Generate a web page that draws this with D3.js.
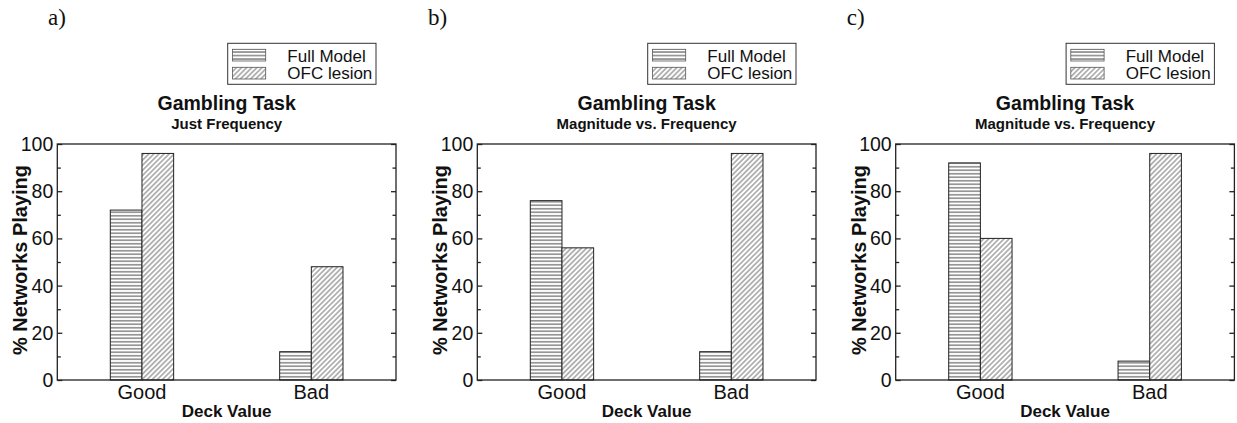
<!DOCTYPE html>
<html>
<head>
<meta charset="utf-8">
<script src="https://cdn.jsdelivr.net/npm/d3@7"></script>
<style>
  body { margin: 0; background: #fff; }
  text { font-family: "Liberation Sans", Arial, sans-serif; fill: #111; }
  .plabel { font-family: "Liberation Serif", "Times New Roman", serif; }
</style>
</head>
<body>
<div id="chart"></div>
<script>

// data
var panelLabels = ["a)", "b)", "c)"];
var subtitles = ["Just Frequency", "Magnitude vs. Frequency", "Magnitude vs. Frequency"];
var categories = ["Good", "Bad"];
var seriesNames = ["Full Model", "OFC lesion"];
var fullModel = [[72, 12], [76, 12], [92, 8]];
var ofcLesion = [[96, 48], [56, 96], [60, 96]];
var yTicks = [0, 20, 40, 60, 80, 100];
var yMinor = [10, 30, 50, 70, 90];

var W = 1237, H = 423;
var panelX = [0, 420, 838.4];
var margin = { left: 57.3, top: 144 };
var width = 338.7;
var height = 236;

var svg = d3.select("#chart").append("svg")
  .attr("width", W)
  .attr("height", H);

var defs = svg.append("defs");

// horizontal lines pattern (Full Model)
var ph = defs.append("pattern")
  .attr("id", "hatchH")
  .attr("patternUnits", "userSpaceOnUse")
  .attr("width", 6).attr("height", 3.5);
ph.append("rect").attr("width", 6).attr("height", 3.5).attr("fill", "#fff");
ph.append("line").attr("x1", 0).attr("x2", 6).attr("y1", 1.75).attr("y2", 1.75)
  .attr("stroke", "#333").attr("stroke-width", 0.9);

// diagonal pattern (OFC lesion)
var pd = defs.append("pattern")
  .attr("id", "hatchD")
  .attr("patternUnits", "userSpaceOnUse")
  .attr("width", 3.6).attr("height", 10)
  .attr("patternTransform", "rotate(45)");
pd.append("rect").attr("width", 3.6).attr("height", 10).attr("fill", "#fff");
pd.append("line").attr("x1", 1.8).attr("x2", 1.8).attr("y1", 0).attr("y2", 10)
  .attr("stroke", "#444").attr("stroke-width", 0.8);

var fills = ["url(#hatchH)", "url(#hatchD)"];

var y = d3.scaleLinear().domain([0, 100]).range([height, 0]);

var x0 = d3.scaleBand()
  .domain(categories)
  .range([0, width])
  .paddingInner(0.626)
  .paddingOuter(0.313);

var x1 = d3.scaleBand()
  .domain(seriesNames)
  .range([0, x0.bandwidth()]);

panelLabels.forEach(function (lab, i) {

  var p = svg.append("g")
    .attr("transform", "translate(" + panelX[i] + ",0)");

  p.append("text")
    .attr("class", "plabel")
    .attr("x", i == 0 ? 48 : (i == 1 ? 8 : 8.3))
    .attr("y", 25)
    .style("font-size", "23px")
    .text(lab);

  var g = p.append("g")
    .attr("transform", "translate(" + margin.left + "," + margin.top + ")");

  // bars
  var rows = categories.map(function (c, j) {
    return { cat: c, vals: [fullModel[i][j], ofcLesion[i][j]] };
  });

  var grp = g.selectAll(".grp")
    .data(rows).enter()
    .append("g")
    .attr("class", "grp")
    .attr("transform", function (d) { return "translate(" + x0(d.cat) + ",0)"; });

  grp.selectAll("rect")
    .data(function (d) { return d.vals.map(function (v, k) { return { s: seriesNames[k], v: v, k: k }; }); })
    .enter().append("rect")
    .attr("x", function (d) { return x1(d.s); })
    .attr("y", function (d) { return y(d.v); })
    .attr("width", x1.bandwidth())
    .attr("height", function (d) { return height - y(d.v); })
    .attr("fill", function (d) { return fills[d.k]; })
    .attr("stroke", "#222")
    .attr("stroke-width", 1);

  // frame
  g.append("rect")
    .attr("width", width).attr("height", height)
    .attr("fill", "none")
    .attr("stroke", "#222")
    .attr("stroke-width", 1.3);

  // y axis (ticks inward), left and right
  var yAxis = d3.axisRight(y).tickValues(yTicks).tickSize(5).tickFormat("");
  var yAxisR = d3.axisLeft(y).tickValues(yTicks).tickSize(5).tickFormat("");
  var yMin = d3.axisRight(y).tickValues(yMinor).tickSize(3.5).tickFormat("");
  var yMinR = d3.axisLeft(y).tickValues(yMinor).tickSize(3.5).tickFormat("");

  [yAxis, yMin].forEach(function (ax) {
    g.append("g").attr("class", "ax").call(ax);
  });
  [yAxisR, yMinR].forEach(function (ax) {
    g.append("g").attr("class", "ax")
      .attr("transform", "translate(" + width + ",0)")
      .call(ax);
  });
  g.selectAll(".ax .domain").remove();
  g.selectAll(".ax line").attr("stroke", "#222").attr("stroke-width", 1.3);

  // tick labels
  g.selectAll(".ylab")
    .data(yTicks).enter()
    .append("text")
    .attr("class", "ylab")
    .attr("x", -4)
    .attr("y", function (d) { return y(d); })
    .attr("dy", "0.36em")
    .attr("text-anchor", "end")
    .style("font-size", "19.5px")
    .text(function (d) { return d; });

  g.selectAll(".xlab")
    .data(categories).enter()
    .append("text")
    .attr("class", "xlab")
    .attr("x", function (d) { return x0(d) + x0.bandwidth() / 2; })
    .attr("y", height + 19)
    .attr("text-anchor", "middle")
    .style("font-size", "20px")
    .text(function (d) { return d; });

  // axis titles
  g.append("text")
    .attr("x", width / 2)
    .attr("y", height + 37)
    .attr("text-anchor", "middle")
    .style("font-size", "17px")
    .style("font-weight", "bold")
    .text("Deck Value");

  g.append("text")
    .attr("transform", "translate(-30," + (height / 2 - 2) + ") rotate(-90)")
    .attr("text-anchor", "middle")
    .style("font-size", "20px")
    .style("font-weight", "bold")
    .text("% Networks Playing");

  // titles
  g.append("text")
    .attr("x", width / 2)
    .attr("y", -34)
    .attr("text-anchor", "middle")
    .style("font-size", "19.5px")
    .style("font-weight", "bold")
    .text("Gambling Task");

  g.append("text")
    .attr("x", width / 2)
    .attr("y", -15)
    .attr("text-anchor", "middle")
    .style("font-size", "15px")
    .style("font-weight", "bold")
    .text(subtitles[i]);

  // legend
  var lg = g.append("g")
    .attr("transform", "translate(170.4," + (43.3 - margin.top) + ")");

  lg.append("rect")
    .attr("width", 148.3).attr("height", 41)
    .attr("fill", "#fff")
    .attr("stroke", "#333")
    .attr("stroke-width", 1);

  seriesNames.forEach(function (s, k) {
    lg.append("rect")
      .attr("x", 4.7).attr("y", 6 + k * 18)
      .attr("width", 33.3).attr("height", 11.7)
      .attr("fill", fills[k])
      .attr("stroke", "#555")
      .attr("stroke-width", 0.8);
    lg.append("text")
      .attr("x", 59.6).attr("y", 18.4 + k * 17.5)
      .style("font-size", "17px")
      .text(s);
  });
});

</script>
</body>
</html>
